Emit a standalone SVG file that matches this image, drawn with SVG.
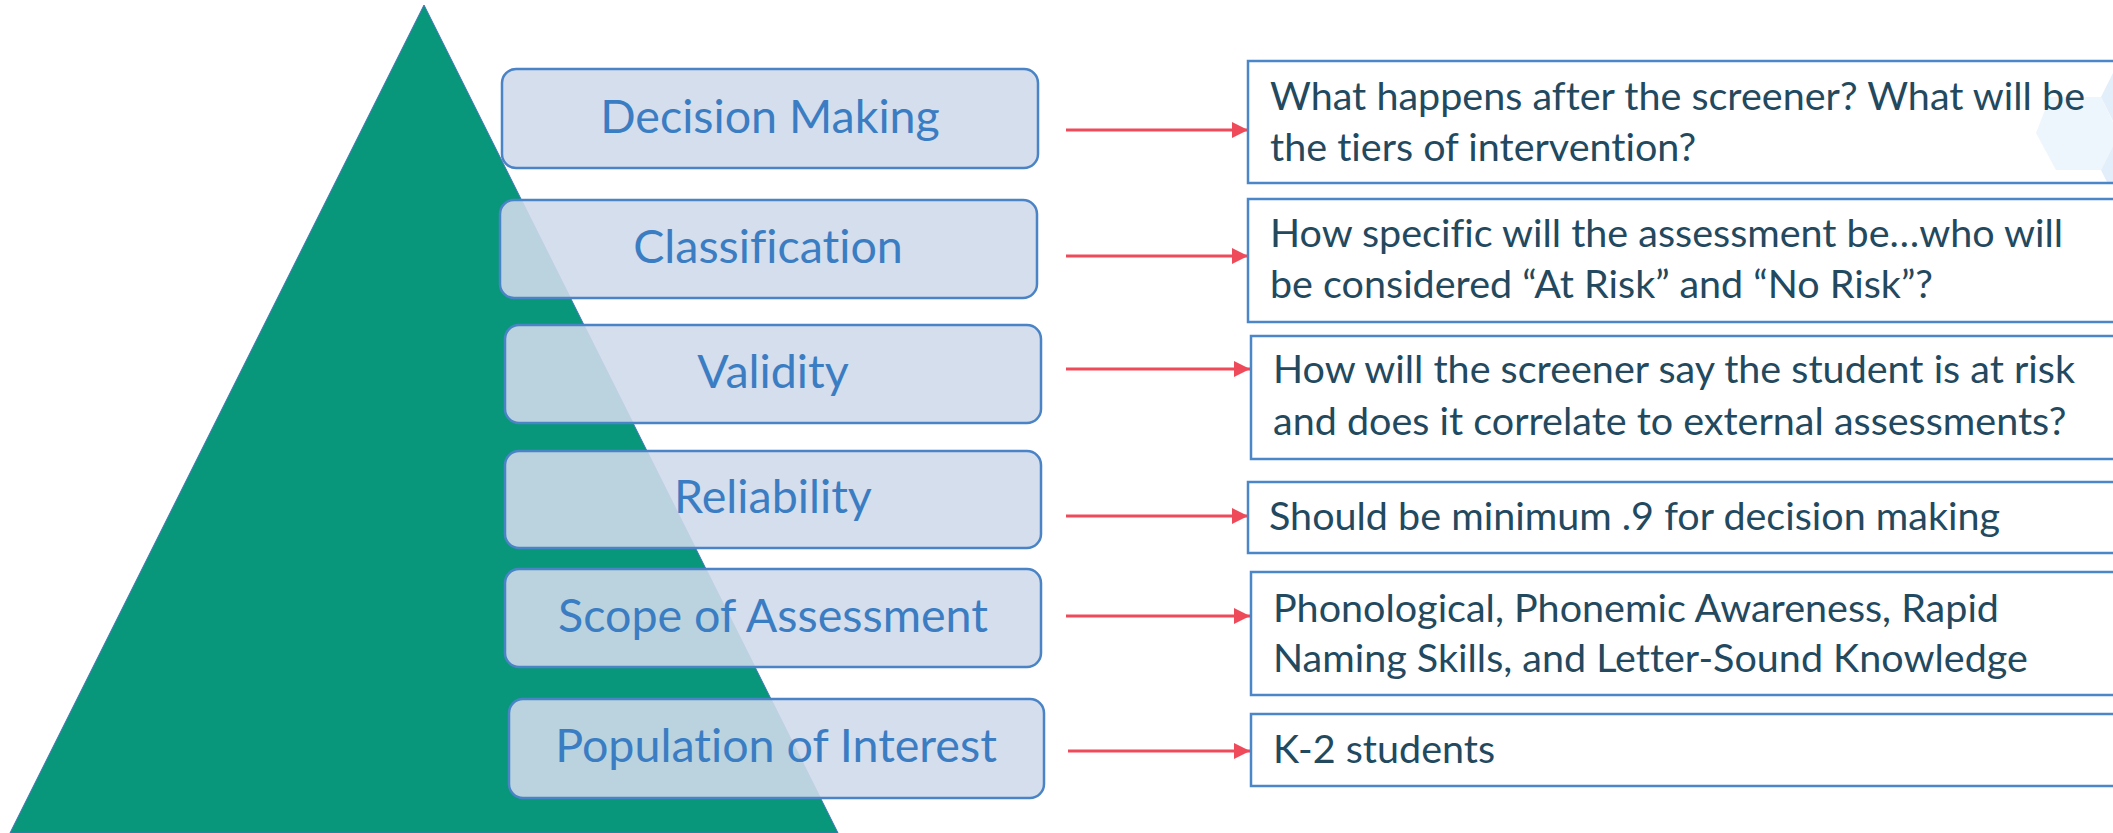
<svg xmlns="http://www.w3.org/2000/svg" width="2113" height="833" viewBox="0 0 2113 833">
  <defs>
    <style>
      .lbl { fill: #D0DAEA; fill-opacity: 0.89; stroke: #4A83C6; stroke-width: 2.5; }
      .lbltxt { font-family: Lato, "Liberation Sans", sans-serif; font-size: 46.6px; fill: #3B7DC3; text-anchor: middle; font-variant-ligatures: none; }
      .desc { fill: none; stroke: #4A86C8; stroke-width: 2.5; }
      .desctxt { font-family: Lato, "Liberation Sans", sans-serif; font-size: 39.5px; fill: #23495F; font-variant-ligatures: none; }
      .arrow { stroke: #EF4A5A; stroke-width: 3; fill: none; marker-end: url(#ah); }
    </style>
    <marker id="ah" markerUnits="userSpaceOnUse" markerWidth="16" markerHeight="16" refX="16" refY="8" orient="auto">
      <path d="M0,0 L16,8 L0,16 Z" fill="#EF4A5A"/>
    </marker>
  </defs>

  <rect width="2113" height="833" fill="#FFFFFF"/>

  <!-- pyramid -->
  <polygon id="pyramid" points="424,5 838,833 10,833" fill="#09977C" stroke="#3A77B8" stroke-width="1"/>

  <!-- background decoration -->
  <g id="hexagons">
    <polygon points="2036,133 2050,97 2101,97 2113,122 2113,146 2101,170 2056,170" fill="#EEF6FD"/>
    <polygon points="2101,97 2113,73 2113,121" fill="#E2EEF9"/>
    <polygon points="2101,170 2113,146 2113,182 2107,182" fill="#E2EEF9"/>
  </g>

  <!-- left labels -->
  <g id="decision-making">
    <rect class="lbl" x="502" y="69" width="536" height="99" rx="14"/>
    <text class="lbltxt" x="770" y="133">Decision Making</text>
  </g>
  <g id="classification">
    <rect class="lbl" x="500" y="200" width="537" height="98" rx="14"/>
    <text class="lbltxt" x="768" y="263">Classification</text>
  </g>
  <g id="validity">
    <rect class="lbl" x="505" y="325" width="536" height="98" rx="14"/>
    <text class="lbltxt" x="773" y="388">Validity</text>
  </g>
  <g id="reliability">
    <rect class="lbl" x="505" y="451" width="536" height="97" rx="14"/>
    <text class="lbltxt" x="773" y="513">Reliability</text>
  </g>
  <g id="scope-of-assessment">
    <rect class="lbl" x="505" y="569" width="536" height="98" rx="14"/>
    <text class="lbltxt" x="773" y="632">Scope of Assessment</text>
  </g>
  <g id="population-of-interest">
    <rect class="lbl" x="509" y="699" width="535" height="99" rx="14"/>
    <text class="lbltxt" x="776" y="762">Population of Interest</text>
  </g>

  <!-- connectors -->
  <g id="connectors">
    <line class="arrow" x1="1066" y1="130" x2="1248" y2="130"/>
    <line class="arrow" x1="1066" y1="256" x2="1248" y2="256"/>
    <line class="arrow" x1="1066" y1="369" x2="1250" y2="369"/>
    <line class="arrow" x1="1066" y1="516" x2="1248" y2="516"/>
    <line class="arrow" x1="1066" y1="616" x2="1250" y2="616"/>
    <line class="arrow" x1="1068" y1="751" x2="1250" y2="751"/>
  </g>

  <!-- right descriptions -->
  <g id="desc-decision-making">
    <rect class="desc" x="1248" y="61" width="900" height="122"/>
    <text class="desctxt" x="1270" y="110">What happens after the screener? What will be</text>
    <text class="desctxt" x="1270" y="161">the tiers of intervention?</text>
  </g>
  <g id="desc-classification">
    <rect class="desc" x="1248" y="199" width="900" height="123"/>
    <text class="desctxt" x="1270" y="247">How specific will the assessment be…who will</text>
    <text class="desctxt" x="1270" y="298">be considered “At Risk” and “No Risk”?</text>
  </g>
  <g id="desc-validity">
    <rect class="desc" x="1251" y="336" width="900" height="123"/>
    <text class="desctxt" x="1273" y="383">How will the screener say the student is at risk</text>
    <text class="desctxt" x="1273" y="435">and does it correlate to external assessments?</text>
  </g>
  <g id="desc-reliability">
    <rect class="desc" x="1248" y="482" width="900" height="71"/>
    <text class="desctxt" x="1269" y="530">Should be minimum .9 for decision making</text>
  </g>
  <g id="desc-scope">
    <rect class="desc" x="1251" y="572" width="900" height="123"/>
    <text class="desctxt" x="1273" y="622">Phonological, Phonemic Awareness, Rapid</text>
    <text class="desctxt" x="1273" y="672">Naming Skills, and Letter-Sound Knowledge</text>
  </g>
  <g id="desc-population">
    <rect class="desc" x="1251" y="714" width="900" height="72"/>
    <text class="desctxt" x="1273" y="763">K-2 students</text>
  </g>
</svg>
